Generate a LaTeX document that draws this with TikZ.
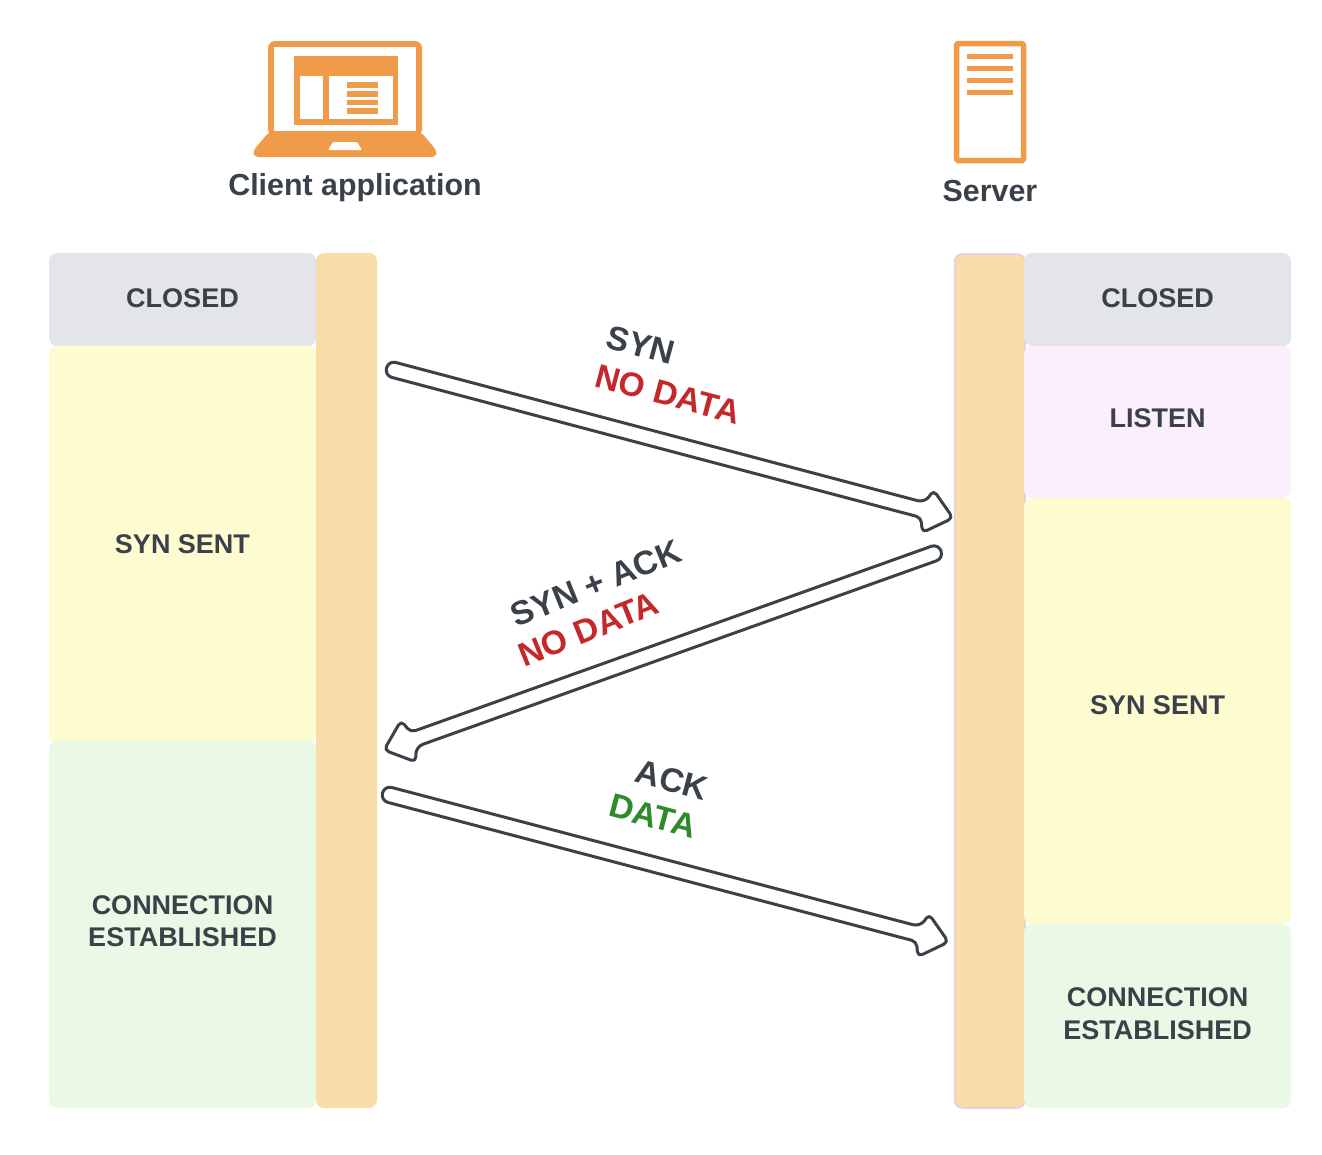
\documentclass[tikz,border=0pt]{standalone}
\usepackage{fontspec}
\setmainfont{Liberation Sans}
\usetikzlibrary{calc}

\definecolor{inkgrey}{HTML}{3A4149}
\definecolor{iconorange}{HTML}{F09B4A}
\definecolor{barorange}{HTML}{F8DCAA}
\definecolor{closedgrey}{HTML}{E3E5E9}
\definecolor{sentyellow}{HTML}{FDFBD0}
\definecolor{listenpink}{HTML}{FAEFFA}
\definecolor{estgreen}{HTML}{E9F9E5}
\definecolor{nored}{HTML}{C5282A}
\definecolor{datagreen}{HTML}{2F8A2C}

\tikzset{
  state/.style={rounded corners=8pt, minimum width=267pt, align=center, text=inkgrey,
    font=\fontsize{27}{32.5}\selectfont\bfseries},
  bar/.style={fill=barorange, rounded corners=8pt},
  title/.style={text=inkgrey, font=\fontsize{30.4}{36}\selectfont\bfseries},
  flowlabel/.style={font=\fontsize{33.6}{40}\selectfont\bfseries},
  hollow/.style={draw=inkgrey, fill=white, line width=3pt, line join=round}
}

\newcommand{\hollowarrow}[2]{%
  \coordinate (neck) at ($(#2)!31pt!(#1)$);
  \coordinate (barb) at ($(#2)!26pt!(#1)$);
  \path[hollow, rounded corners=7.5pt] (#1) -- ($(#1)!7.7pt!90:(#2)$) -- ($(neck)!7.7pt!90:(#2)$)
    [rounded corners=5pt] -- ($(barb)!22pt!90:(#2)$) -- (#2) -- ($(barb)!22pt!-90:(#2)$)
    -- ($(neck)!7.7pt!-90:(#2)$) [rounded corners=7.5pt] -- ($(#1)!7.7pt!-90:(#2)$) -- (#1);
}

\begin{document}
\begin{tikzpicture}[x=1pt, y=-1pt]
    \useasboundingbox (0,0) rectangle (1322,1154);

    % laptop
    \fill[iconorange, rounded corners=7pt] (268,136) -- (268,41) -- (422,41) -- (422,136) -- cycle;
    \fill[white] (274,47) rectangle (416,131);
    \fill[iconorange, rounded corners=4pt] (269,132) -- (421,132) -- (437,151) -- (436,157) -- (254,157) -- (253,151) -- cycle;
    \fill[white, rounded corners=1pt] (333,142) -- (357,142) -- (362,150) -- (328,150) -- cycle;
    \fill[iconorange] (294,56) rectangle (398,125);
    \fill[white] (300,76) rectangle (323,119);
    \fill[white] (329,76) rectangle (393,119);
    \foreach \y in {82,91,99.5,108}
      \fill[iconorange] (347,\y) rectangle (378,\y+5.5);
    \node[title] (client) at (355,188) {Client application};

    % server
    \draw[iconorange, line width=5.5pt, rounded corners=1.5pt] (956.5,43.5) rectangle (1023.5,160.5);
    \foreach \y in {53.5,65.5,77.5,89.5}
      \fill[iconorange] (967,\y) rectangle (1013,\y+5.5);
    \node[title] (server) at (990,191) {Server};

    % client side
    \node[state, fill=closedgrey, minimum height=93pt, text depth=2pt] (closedC) at (182.5,299.5) {CLOSED};
    \node[state, fill=sentyellow, minimum height=397pt] (sentC) at (182.5,544) {SYN SENT};
    \node[state, fill=estgreen, minimum height=367pt, text depth=7pt] (estC) at (182.5,924.5) {CONNECTION\\ESTABLISHED};
    \fill[bar] (316,253) rectangle (377,1108);

    % server side
    \fill[bar, draw=listenpink!70!violet!60, line width=1.5pt] (954.5,254) rectangle (1025,1108);
    \node[state, fill=closedgrey, minimum height=93pt, text depth=2pt] (closedS) at (1157.5,299.5) {CLOSED};
    \node[state, fill=listenpink, minimum height=152pt, text depth=8pt] (listenS) at (1157.5,422) {LISTEN};
    \node[state, fill=sentyellow, minimum height=426pt, text depth=12pt] (sentS) at (1157.5,711) {SYN SENT};
    \node[state, fill=estgreen, minimum height=184pt, text depth=5pt] (estS) at (1157.5,1016) {CONNECTION\\ESTABLISHED};

    % arrows
    \coordinate (synFrom) at (386.5,368);
    \coordinate (synTo) at (953,518);
    \coordinate (ackFrom) at (941,551);
    \coordinate (ackTo) at (384,750);
    \coordinate (dataFrom) at (382.5,793);
    \coordinate (dataTo) at (948.5,942);
    \hollowarrow{synFrom}{synTo}
    \hollowarrow{ackFrom}{ackTo}
    \hollowarrow{dataFrom}{dataTo}

    \node[flowlabel, text=inkgrey, rotate=-15] (synA) at (641,345) {SYN};
    \node[flowlabel, text=nored, rotate=-15] (noA) at (668,394) {NO DATA};
    \node[flowlabel, text=inkgrey, rotate=22] (synB) at (596,583) {SYN + ACK};
    \node[flowlabel, text=nored, rotate=22] (noB) at (588.5,629) {NO DATA};
    \node[flowlabel, text=inkgrey, rotate=-15] (ackC) at (672,780) {ACK};
    \node[flowlabel, text=datagreen, rotate=-15] (dataC) at (653,816) {DATA};
\end{tikzpicture}
\end{document}
